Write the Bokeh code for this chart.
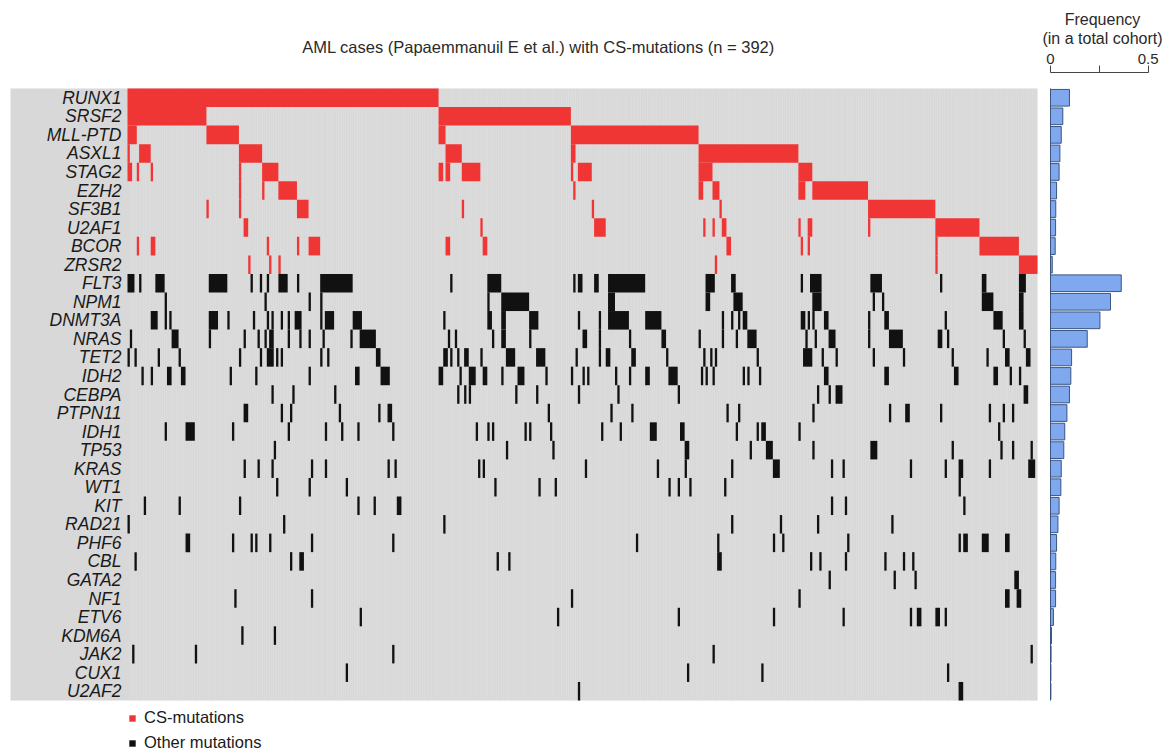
from bokeh.plotting import figure
from bokeh.models import Range1d, LinearAxis, FixedTicker, Legend, LegendItem
from bokeh.core.properties import value
from bokeh.embed import file_html
from bokeh.resources import INLINE

# ---------------- data ----------------
TITLE = "AML cases (Papaemmanuil E et al.) with CS-mutations (n = 392)"
N_CASES = 392
GENES = ["RUNX1", "SRSF2", "MLL-PTD", "ASXL1", "STAG2", "EZH2", "SF3B1", "U2AF1", "BCOR", "ZRSR2",
         "FLT3", "NPM1", "DNMT3A", "NRAS", "TET2", "IDH2", "CEBPA", "PTPN11", "IDH1", "TP53",
         "KRAS", "WT1", "KIT", "RAD21", "PHF6", "CBL", "GATA2", "NF1", "ETV6", "KDM6A",
         "JAK2", "CUX1", "U2AF2"]
N_CS = 10  # first ten genes are CS-mutations

# frequency in a total cohort (right bar chart)
FREQ = [0.097, 0.063, 0.055, 0.048, 0.044, 0.031, 0.027, 0.026, 0.024, 0.009,
        0.362, 0.307, 0.253, 0.188, 0.108, 0.104, 0.097, 0.084, 0.073, 0.068,
        0.055, 0.053, 0.044, 0.038, 0.031, 0.027, 0.026, 0.026, 0.015, 0.005,
        0.003, 0.002, 0.002]
FREQ_TICKS = [0, 0.25, 0.5]

# mutated case indices (ints) or inclusive index runs (tuples), per gene
RUNX1 = [(0, 133)]
SRSF2 = [(0, 33), (134, 190)]
MLL_PTD = [(0, 3), (34, 47), (134, 136), (191, 245)]
ASXL1 = [0, (5, 9), (48, 57), (137, 143), (191, 192), (246, 288)]
STAG2 = [(0, 1), 4, 10, 48, (58, 64), (134, 135), (137, 138), (144, 151), 191, (194, 199),
         (246, 251), (289, 294)]
EZH2 = [48, 58, (65, 72), 192, (246, 247), (252, 254), (289, 291), (295, 318)]
SF3B1 = [34, 48, (73, 77), 144, 200, 255, (319, 347)]
U2AF1 = [(50, 51), 152, (201, 205), 248, 252, (256, 257), 289, (293, 294), 319, (348, 366)]
BCOR = [4, (10, 11), 60, 73, (78, 82), (137, 138), (153, 154), (258, 259), 290, 293, 348, (367, 383)]
ZRSR2 = [52, 61, 65, 253, 348, (384, 391)]

FLT3 = [(0, 2), 5, (12, 15), (35, 42), 53, 57, 60, (65, 68), 73, (83, 96), 139, (155, 160), 192,
        (194, 195), (201, 202), (207, 222), (249, 252), (260, 261), 290, (294, 298), (320, 324),
        350, (368, 369), (384, 386)]
NPM1 = [16, 59, 78, 83, 155, (161, 172), (207, 209), (249, 250), (261, 264), (295, 298), 321, 325,
        (368, 372), (384, 385)]
DNMT3A = [(10, 12), 16, 18, (35, 38), 43, 54, 60, 62, 66, 69, (72, 74), 83, (85, 88), (97, 100), 136,
          (155, 156), (161, 162), (173, 176), 194, 203, (207, 215), (223, 229), 256, 260, 263,
          (265, 266), (290, 291), 293, 295, (300, 301), 319, (326, 327), 352, (373, 376), (384, 385)]
NRAS = [1, (19, 21), 35, 50, 56, 59, (61, 62), 69, 74, 78, 84, 96, (100, 106), 138, 141, 157,
        (161, 162), 173, (196, 197), 203, 216, (230, 231), 246, 256, 262, (267, 270), 292, 296,
        (302, 304), 319, (328, 333), (349, 350), 353, 377, 386]
TET2 = [0, 3, 13, 22, 48, 57, (60, 62), 64, 66, 83, 86, (107, 108), (136, 137), 139, 142, (145, 146),
        152, (163, 166), (176, 179), 193, 203, (206, 207), (217, 218), 232, 248, 251, 253, 271,
        (291, 294), 299, 305, 321, 334, 355, 370, (378, 379), (387, 388)]
IDH2 = [6, 10, (17, 18), (23, 24), 44, 55, 78, (98, 99), (109, 112), (134, 135), 143, (147, 149),
        (153, 154), 161, (168, 170), 180, 191, 196, 198, 210, 216, (223, 224), (233, 236), 247, 249,
        252, 265, 267, 272, (300, 301), (326, 327), (356, 357), (373, 374), 380, 384]
CEBPA = [62, 71, 89, 142, 145, 147, 167, 176, 194, 211, 237, 297, 302, (305, 307), (386, 387)]
PTPN11 = [(50, 51), 66, 70, 91, 108, (112, 113), 181, 208, 217, 258, 263, 295, 328, (335, 336),
          350, 371, 377, 381]
IDH1 = [16, (25, 28), 45, 69, 85, 92, 99, 114, 150, 155, 157, 171, 173, 182, 204, 212, (225, 227),
        (238, 239), 262, 271, (273, 274), 289, 375]
TP53 = [63, 163, 183, (240, 241), 268, (275, 277), 295, (320, 322), 355, 376, 381, 389]
KRAS = [50, 56, 62, 79, 85, 112, 115, 151, 153, 197, 228, 240, 260, (278, 280), 303, 308, 337, 352,
        (358, 359), 371, (388, 390)]
WT1 = [64, 78, 94, 158, 177, 184, 233, 237, 242, 257, 358]
KIT = [7, 22, 48, 99, 106, (116, 117), 303, 309, 360]
RAD21 = [0, 67, 136, 260, 281, 297, 329]
PHF6 = [(25, 26), 45, 53, 55, 61, 79, 114, 219, 254, 278, 282, 310, 358, (360, 361), (368, 370),
        (378, 379)]
CBL = [3, 70, (74, 75), 159, 164, (254, 255), 294, 298, 309, 326, 334, 338]
GATA2 = [302, 330, 339, (382, 383)]
NF1 = [46, 79, 191, 289, (378, 379), (383, 384)]
ETV6 = [100, 185, 237, 278, 308, 337, (340, 341), (348, 349), 352]
KDM6A = [49, 63]
JAK2 = [2, 29, 114, 252, 389]
CUX1 = [94, 241, 273, 353]
U2AF2 = [194, (358, 359)]

ROWS = [RUNX1, SRSF2, MLL_PTD, ASXL1, STAG2, EZH2, SF3B1, U2AF1, BCOR, ZRSR2,
        FLT3, NPM1, DNMT3A, NRAS, TET2, IDH2, CEBPA, PTPN11, IDH1, TP53,
        KRAS, WT1, KIT, RAD21, PHF6, CBL, GATA2, NF1, ETV6, KDM6A, JAK2, CUX1, U2AF2]

# ---------------- layout (canvas pixels) ----------------
W, H = 1165, 753
COL0, PXC = 127.0, 910.0 / N_CASES        # x of first case, px per case
ROW0, PXR = 88.0, 612.0 / len(GENES)      # y of first row, px per row
F0, PXF = 1050.0, 195.4                   # x of frequency 0, px per unit frequency
GRAY_LEFT = 10.0

def col_of(px):
    return (px - COL0) / PXC

def row_of(py):
    return (py - ROW0) / PXR

def freq_of(px):
    return (px - F0) / PXF

p = figure(width=W, height=H, output_backend="svg", toolbar_location=None,
           x_range=Range1d(col_of(0), col_of(W)),
           y_range=Range1d(row_of(H), row_of(0)),
           x_axis_location=None, y_axis_location=None, min_border=0)
p.extra_x_ranges = {"freq": Range1d(freq_of(0), freq_of(W))}
p.xgrid.visible = False
p.ygrid.visible = False
p.outline_line_color = None
p.background_fill_color = "white"
p.border_fill_color = "white"

n_rows = len(GENES)

# gray panel behind labels and matrix
p.quad(left=[col_of(GRAY_LEFT)], right=[N_CASES], top=[0], bottom=[n_rows],
       fill_color="#d8d8d8", line_color=None)
# faint cell separators
cols = list(range(1, N_CASES))
p.segment(x0=cols, y0=[0] * len(cols), x1=cols, y1=[n_rows] * len(cols),
          line_color="#e4e4e4", line_width=0.6, line_alpha=0.8)

def runs(entries):
    out = []
    for e in entries:
        if isinstance(e, tuple):
            out.append((e[0], e[1]))
        else:
            out.append((e, e))
    return out

red = dict(left=[], right=[], top=[], bottom=[])
black = dict(left=[], right=[], top=[], bottom=[])
for r, entries in enumerate(ROWS):
    target = red if r < N_CS else black
    for a, b in runs(entries):
        target["left"].append(a)
        target["right"].append(b + 1)
        target["top"].append(r)
        target["bottom"].append(r + 1)

red_r = p.quad(source=red, left="left", right="right", top="top", bottom="bottom",
               fill_color="#f03535", line_color=None)
black_r = p.quad(source=black, left="left", right="right", top="top", bottom="bottom",
                 fill_color="#111111", line_color=None)

# gene labels
p.text(x=[col_of(121)] * n_rows, y=[r + 0.5 for r in range(n_rows)], text=GENES,
       text_align="right", text_baseline="middle", text_font=value("Liberation Sans"),
       text_font_style="italic", text_font_size="17.5px", text_color="#1a1a1a")

# title
p.text(x=[col_of(538)], y=[row_of(46)], text=[TITLE], text_align="center",
       text_baseline="middle", text_font=value("Liberation Sans"), text_font_size="16.5px",
       text_color="#2a2a2a")

# frequency bars
p.hbar(y=[r + 0.5 for r in range(n_rows)], left=0, right=FREQ, height=0.9,
       x_range_name="freq", fill_color="#80a8ee", line_color="#3b5582", line_width=1)
p.segment(x0=[0], y0=[0], x1=[0], y1=[n_rows], x_range_name="freq",
          line_color="#3b5582", line_width=1)

p.text(x=[freq_of(1102)] * 2, y=[row_of(19), row_of(38)],
       text=["Frequency", "(in a total cohort)"], x_range_name="freq",
       text_align="center", text_baseline="middle", text_font=value("Liberation Sans"),
       text_font_size="16px", text_color="#2a2a2a")

fax = LinearAxis(x_range_name="freq", fixed_location=row_of(72), bounds=(0, 0.5),
                 ticker=FixedTicker(ticks=FREQ_TICKS),
                 major_label_overrides={0: "0", 0.25: "", 0.5: "0.5"},
                 minor_tick_line_color=None, major_tick_out=7, major_tick_in=0,
                 axis_line_color="#444444", major_tick_line_color="#444444",
                 major_label_text_font="Liberation Sans", major_label_text_font_size="15px",
                 major_label_text_color="#2a2a2a", major_label_standoff=2)
p.add_layout(fax, "above")

legend = Legend(items=[LegendItem(label="CS-mutations", renderers=[red_r]),
                       LegendItem(label="Other mutations", renderers=[black_r])],
                location=(128, 1), glyph_width=8, glyph_height=8, label_height=18,
                spacing=6, padding=0, margin=0, border_line_color=None,
                background_fill_alpha=0, label_text_font="Liberation Sans",
                label_text_font_size="16.5px", label_text_color="#1a1a1a", label_standoff=8)
p.add_layout(legend)

open("out.html", "w").write(file_html(p, INLINE))
